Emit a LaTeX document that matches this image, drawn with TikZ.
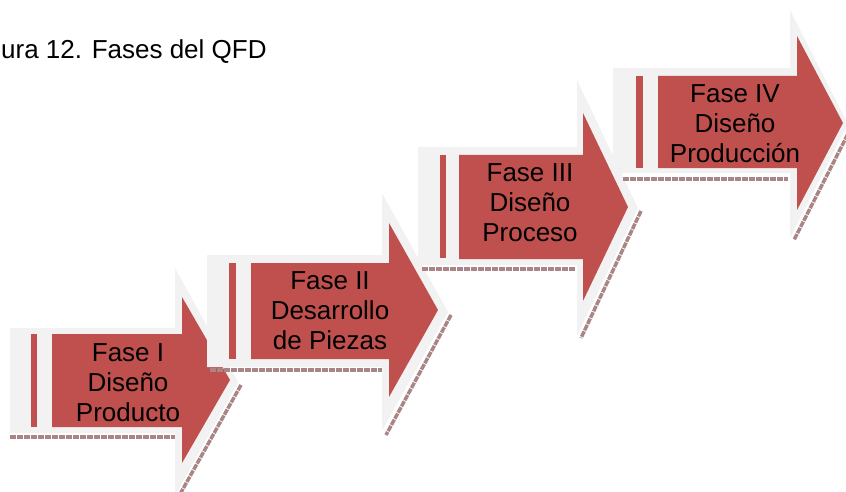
\documentclass[tikz,border=0pt]{standalone}
\usepackage{fontspec}
\setmainfont{Liberation Sans}
\definecolor{faseRed}{HTML}{C0504D}
\definecolor{faseGray}{HTML}{F2F2F2}
\definecolor{faseShadow}{HTML}{A98585}
\begin{document}
\begin{tikzpicture}[x=1pt, y=-1pt,
  outer/.style={fill=faseGray, draw=none},
  inner/.style={fill=faseRed, draw=none},
  shade/.style={draw=faseShadow, line width=3.5pt, dash pattern=on 6pt off 1pt},
  label/.style={align=center, font=\fontsize{26}{30}\selectfont, inner sep=0pt}]
\useasboundingbox (0,0) rectangle (846,492);
\node[anchor=base west, font=\fontsize{26}{30}\selectfont, inner sep=0pt] (titulo) at (1,59) {ura 12. Fases del QFD};
% fase 1
\draw[shade] (10,437) -- (175,437);
\draw[shade] (241,385) -- (179,496);
\fill[outer] (10,328) -- (175,328) -- (175,268) -- (238,382) -- (175,496) -- (175,433) -- (10,433) -- cycle;
\fill[inner] (52,334) -- (182,334) -- (182,297) -- (230,380) -- (182,463) -- (182,427) -- (52,427) -- cycle;
\fill[inner] (31,334) rectangle (37,427);
\node[label] (fase1) at (128,383) {Fase I\\Diseño\\Producto};
% fase 2
\draw[shade] (210,370) -- (382,370);
\draw[shade] (451,315) -- (386,435);
\fill[outer] (207,255) -- (382,255) -- (382,193) -- (448,312) -- (382,431) -- (382,367) -- (207,367) -- cycle;
\fill[inner] (251,263) -- (389,263) -- (389,223) -- (438,310) -- (389,397) -- (389,359) -- (251,359) -- cycle;
\fill[inner] (229,263) rectangle (236,359);
\node[label] (fase2) at (330,311) {Fase II\\Desarrollo\\de Piezas};
% fase 3
\draw[shade] (422,269) -- (576,269);
\draw[shade] (641,211) -- (581,338);
\fill[outer] (418,147) -- (577,147) -- (577,80) -- (638,208) -- (577,336) -- (577,265) -- (418,265) -- cycle;
\fill[inner] (459,155) -- (583,155) -- (583,113) -- (628,207) -- (583,301) -- (583,259) -- (459,259) -- cycle;
\fill[inner] (440,155) rectangle (446,258);
\node[label] (fase3) at (530,203) {Fase III\\Diseño\\Proceso};
% fase 4
\draw[shade] (623,179) -- (788,179);
\draw[shade] (851,128) -- (794,240);
\fill[outer] (613,68) -- (790,68) -- (790,10) -- (848,124) -- (790,238) -- (790,173) -- (613,173) -- cycle;
\fill[inner] (658,76) -- (797,76) -- (797,36) -- (843,123) -- (797,210) -- (797,168) -- (658,168) -- cycle;
\fill[inner] (636,76) rectangle (643,168);
\node[label] (fase4) at (735,124) {Fase IV\\Diseño\\Producción};
\end{tikzpicture}
\end{document}
